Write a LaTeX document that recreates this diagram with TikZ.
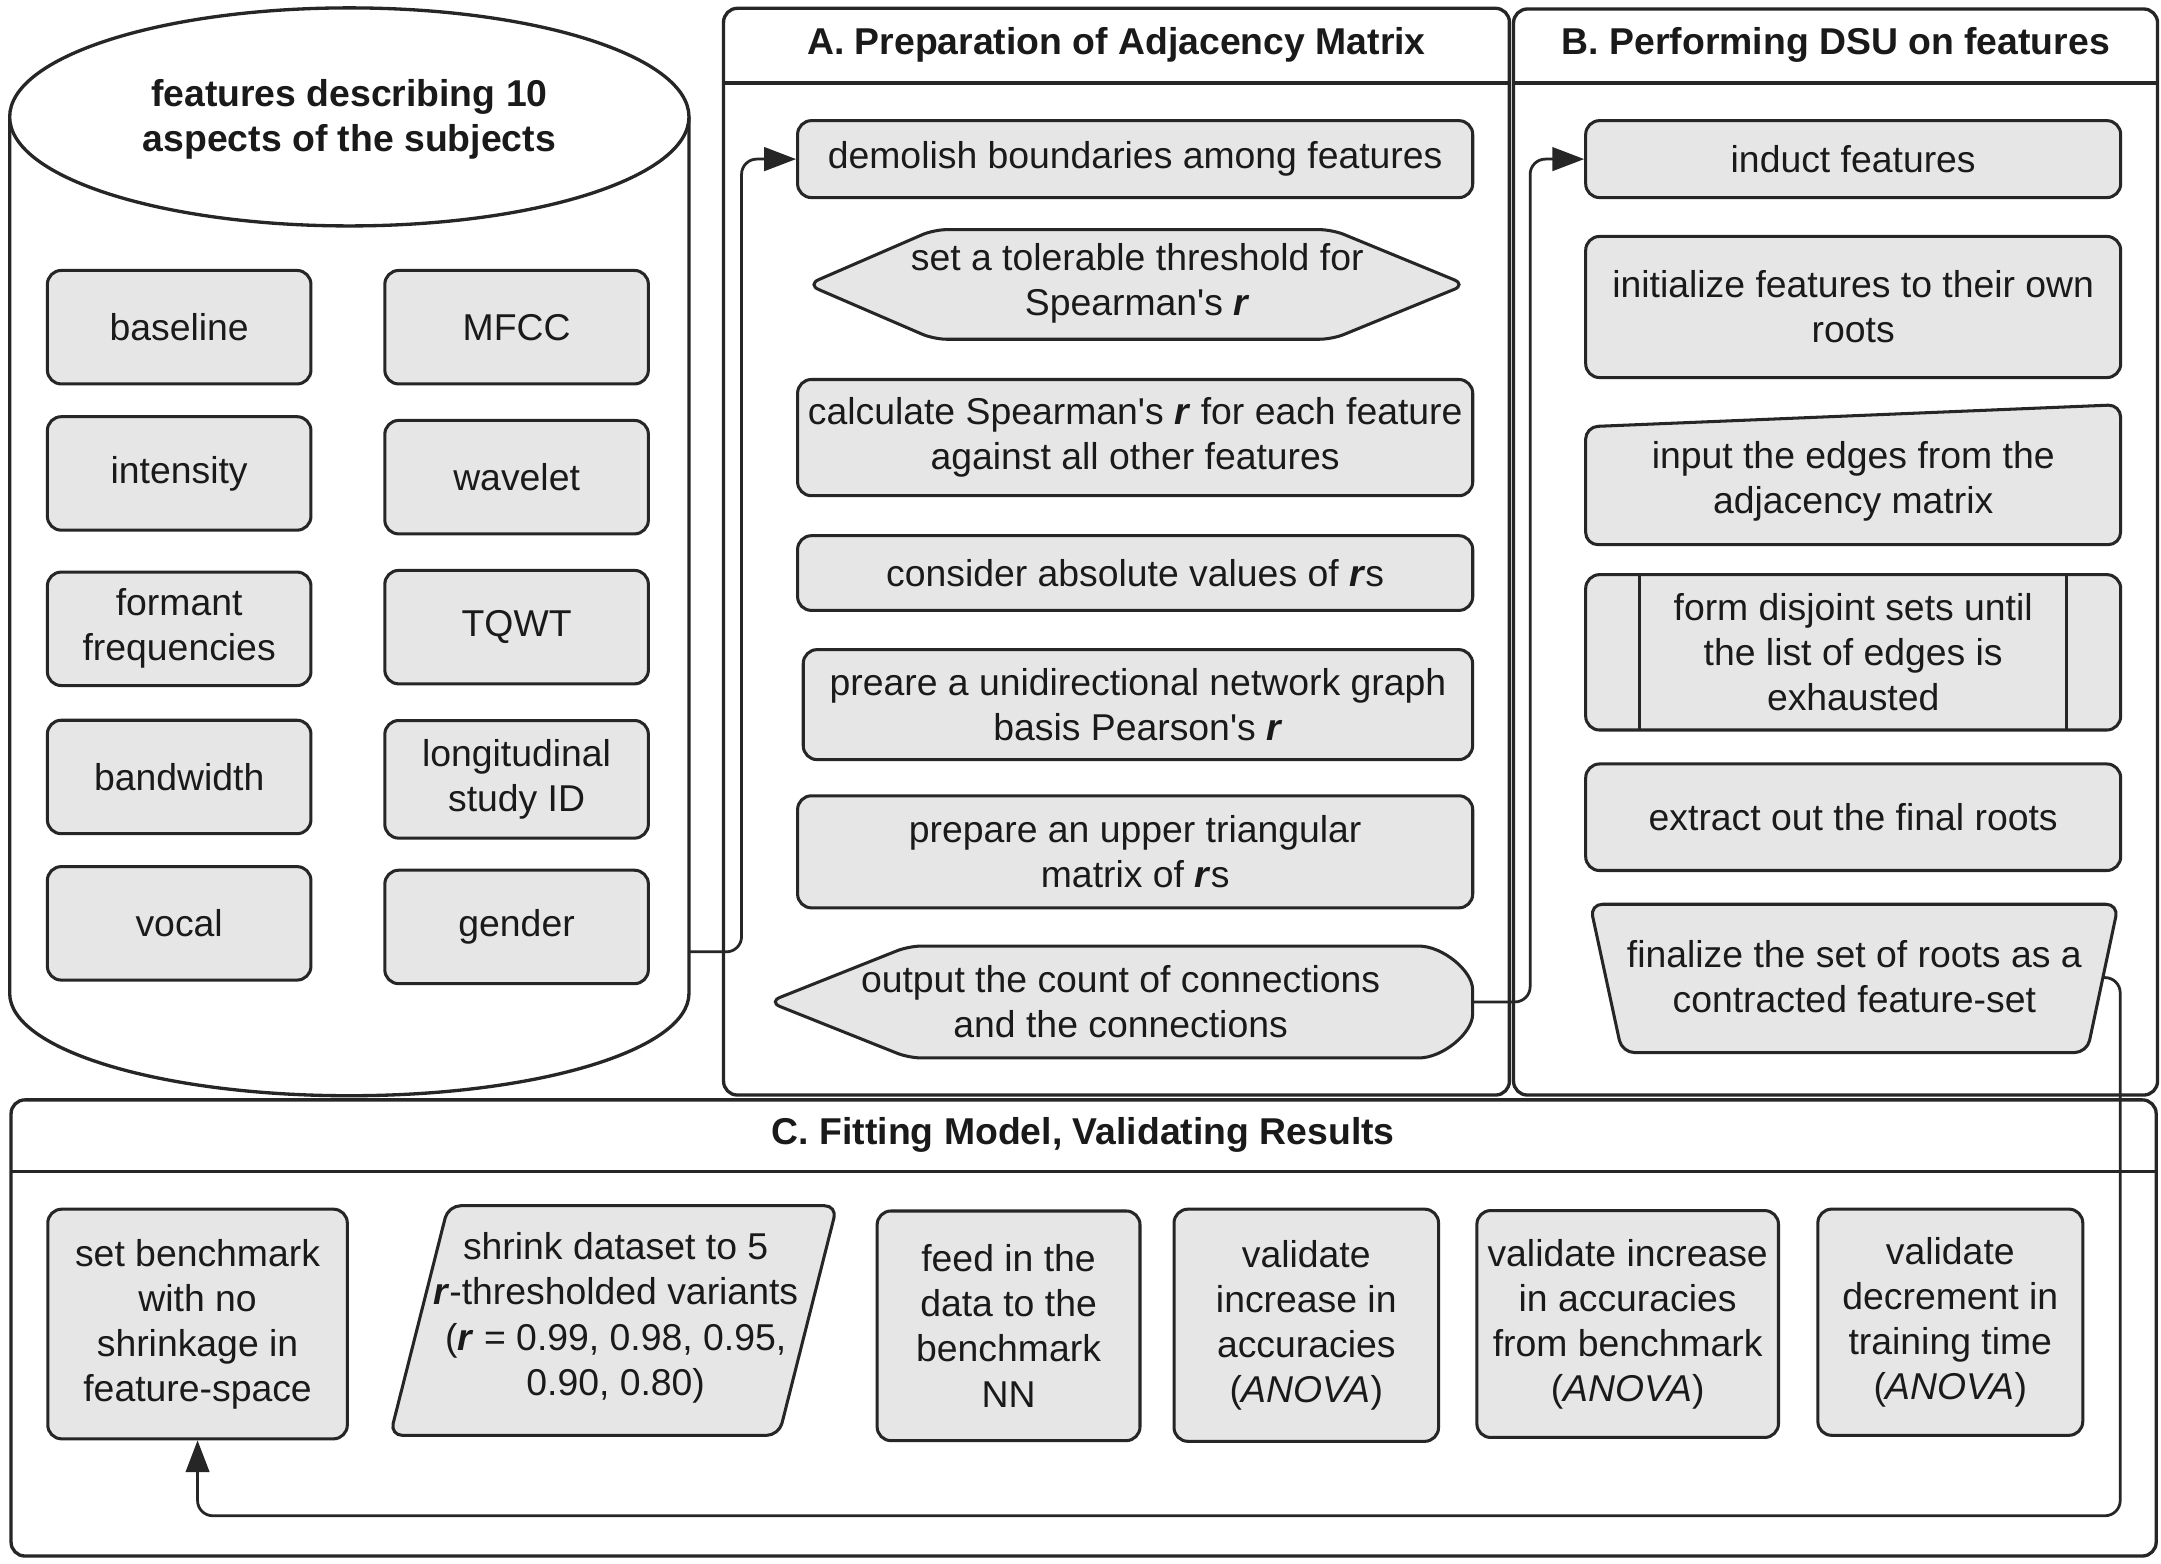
\documentclass[tikz,border=0pt]{standalone}
\usepackage{fontspec}
\setmainfont{Liberation Sans}
\usetikzlibrary{arrows.meta,calc}
\definecolor{lc}{HTML}{262626}
\definecolor{bf}{HTML}{E6E6E6}
\definecolor{tc}{HTML}{1A1A1A}
\newcommand{\myfs}{\fontsize{27}{32.6}\selectfont}
\newcommand{\myr}{\textbf{\textit{r}}}
\newcommand{\myq}{\textquotesingle}
\begin{document}
\begin{tikzpicture}[x=1pt,y=-1pt,
  fbox/.style={draw=lc, fill=bf, line width=2.2pt, rounded corners=10pt, align=center, inner sep=0pt, text=tc, font=\myfs},
  shp/.style={draw=lc, fill=bf, line width=2.2pt, rounded corners=9pt},
  lbl/.style={align=center, inner sep=0pt, text=tc, font=\myfs},
  ttl/.style={align=center, inner sep=0pt, text=tc, font=\myfs\bfseries},
  panel/.style={draw=lc, line width=2.4pt, rounded corners=10pt, fill=white},
  panelline/.style={draw=lc, line width=2.4pt},
  conn/.style={draw=lc, line width=2pt, rounded corners=11pt},
  arrowend/.style={-{Triangle[length=23pt,width=17pt]}}
]
\useasboundingbox (0,0) rectangle (1562,1130);
\fill[white] (0,0) rectangle (1562,1130);

% ---------- cylinder ----------
\path[draw=lc, line width=2.4pt, fill=white] (7,84.5) -- (7,718) .. controls (7,758.9) and (116.9,792) .. (252.5,792) .. controls (388.1,792) and (498,758.9) .. (498,718) -- (498,84.5);
\draw[draw=lc, line width=2.4pt, fill=white] (252.5,84.5) ellipse [x radius=245.5, y radius=78.8];
\node[ttl] (dbt) at (252.5,86.5) {features describing 10\\aspects of the subjects};

\node[fbox, minimum width=190.5pt, minimum height=82pt] (baseline) at (129.5,236.5) {baseline};
\node[fbox, minimum width=190.5pt, minimum height=82pt] (mfcc) at (373.4,236.5) {MFCC};
\node[fbox, minimum width=190.5pt, minimum height=82pt] (intensity) at (129.5,342.2) {intensity};
\node[fbox, minimum width=190.5pt, minimum height=82pt] (wavelet) at (373.4,344.9) {wavelet};
\node[fbox, minimum width=190.5pt, minimum height=82pt] (formant) at (129.5,454.5) {formant\\frequencies};
\node[fbox, minimum width=190.5pt, minimum height=82pt] (tqwt) at (373.4,453.3) {TQWT};
\node[fbox, minimum width=190.5pt, minimum height=82pt] (bandwidth) at (129.5,561.6) {bandwidth};
\node[fbox, minimum width=190.5pt, minimum height=85pt] (longit) at (373.4,563.3) {longitudinal\\study ID};
\node[fbox, minimum width=190.5pt, minimum height=82pt] (vocal) at (129.5,667.4) {vocal};
\node[fbox, minimum width=190.5pt, minimum height=82pt] (gender) at (373.4,670) {gender};

% ---------- panels ----------
\draw[panel] (523,6) rectangle (1091,791.5);
\draw[panelline] (523,60) -- (1091,60);
\node[ttl] (ta) at (807,32.5) {A. Preparation of Adjacency Matrix};

\draw[panel] (1094,6.5) rectangle (1559.5,791.5);
\draw[panelline] (1094,60) -- (1559.5,60);
\node[ttl] (tb) at (1327,32.5) {B. Performing DSU on features};

\draw[panel] (8,795) rectangle (1558.5,1124.7);
\draw[panelline] (8,847) -- (1558.5,847);
\node[ttl] (tcc) at (783,820) {C. Fitting Model, Validating Results};

% ---------- panel A ----------
\node[fbox, minimum width=488pt, minimum height=55.6pt] (dem) at (820.5,115) {demolish boundaries among features};
\path[shp] (583.5,205.7) -- (675,166) -- (963,166) -- (1059.5,205.7) -- (963,245.2) -- (675,245.2) -- cycle;
\node[lbl] (thr) at (822,204.5) {set a tolerable threshold for\\Spearman\myq s \myr};
\node[fbox, minimum width=488pt, minimum height=84pt] (calc) at (820.5,316.3) {calculate Spearman\myq s \myr{} for each feature\\against all other features};
\node[fbox, minimum width=488pt, minimum height=54pt] (cons) at (820.5,414.2) {consider absolute values of \myr s};
\node[fbox, minimum width=483.8pt, minimum height=79.5pt] (prea) at (822.5,509.3) {preare a unidirectional network graph\\basis Pearson\myq s \myr};
\node[fbox, minimum width=488pt, minimum height=81pt] (prep) at (820.5,615.7) {prepare an upper triangular\\matrix of \myr s};
\path[shp] (555.5,724.2) -- (657,683.8) -- (1016.4,683.8) .. controls (1042.9,683.8) and (1064.4,701.9) .. (1064.4,724.2) .. controls (1064.4,746.6) and (1042.9,764.7) .. (1016.4,764.7) -- (657,764.7) -- cycle;
\node[lbl, minimum width=508.9pt, minimum height=80.9pt] (outp) at (810,724.2) {output the count of connections\\and the connections};

% ---------- panel B ----------
\node[fbox, minimum width=386.7pt, minimum height=55.6pt] (ind) at (1339.5,115) {induct features};
\node[fbox, minimum width=386.7pt, minimum height=102pt] (init) at (1339.5,221.9) {initialize features to their own\\roots};
\path[shp] (1146.1,308.5) -- (1532.8,292.5) -- (1532.8,393.7) -- (1146.1,393.7) -- cycle;
\node[lbl] (inp) at (1339.5,348) {input the edges from the\\adjacency matrix};
\node[fbox, minimum width=386.7pt, minimum height=112.3pt] (fd) at (1339.5,471.5) {form disjoint sets until\\the list of edges is\\exhausted};
\draw[draw=lc, line width=2.2pt] (1184.9,415.3) -- (1184.9,527.6);
\draw[draw=lc, line width=2.2pt] (1493.8,415.3) -- (1493.8,527.6);
\node[fbox, minimum width=386.7pt, minimum height=77pt] (ext) at (1339.5,590.7) {extract out the final roots};
\path[shp] (1149.3,653.6) -- (1531.2,653.6) -- (1508.5,760.8) -- (1172.4,760.8) -- cycle;
\node[lbl] (fin) at (1340.3,706) {finalize the set of roots as a\\contracted feature-set};

% ---------- panel C ----------
\node[fbox, minimum width=216.5pt, minimum height=166pt] (sb) at (142.8,957) {set benchmark\\with no\\shrinkage in\\feature-space};
\path[shp] (324,871.5) -- (605,871.5) -- (563,1037.5) -- (282,1037.5) -- cycle;
\node[lbl] (shr) at (445,952.5) {shrink dataset to 5\\\myr-thresholded variants\\(\myr{} = 0.99, 0.98, 0.95,\\0.90, 0.80)};
\node[fbox, minimum width=190pt, minimum height=166pt] (feed) at (729,958.3) {feed in the\\data to the\\benchmark\\NN};
\node[fbox, minimum width=191.2pt, minimum height=167.8pt] (va) at (944.2,957.9) {validate\\increase in\\accuracies\\(\textit{ANOVA})};
\node[fbox, minimum width=218pt, minimum height=164pt] (vb) at (1176.5,957) {validate increase\\in accuracies\\from benchmark\\(\textit{ANOVA})};
\node[fbox, minimum width=191.5pt, minimum height=163.5pt] (vc) at (1409.7,955.7) {validate\\decrement in\\training time\\(\textit{ANOVA})};

% ---------- connectors ----------
\coordinate (dbR) at (498,688);
\draw[conn, arrowend] (dbR) -- (536,688) |- (dem.west);
\draw[conn, arrowend] (outp.east) -- (1106,724.2) |- (ind.west);
\coordinate (finR) at (1519.5,706.6);
\draw[conn, arrowend] (finR) -- (1532.5,706.6) -- (1532.5,1095.6) -| (sb.south);
\end{tikzpicture}
\end{document}
